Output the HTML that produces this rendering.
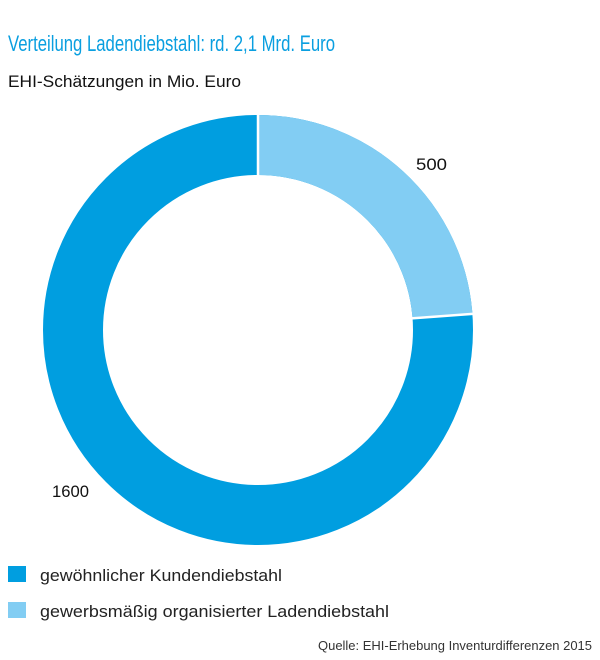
<!DOCTYPE html>
<html><head><meta charset="utf-8"><style>html,body{margin:0;padding:0;background:#fff}svg{display:block}</style></head>
<body>
<svg width="600" height="660" viewBox="0 0 600 660" xmlns="http://www.w3.org/2000/svg" font-family="Liberation Sans, sans-serif">
<text x="8" y="51" font-size="22" fill="#0a9fe0" textLength="327" lengthAdjust="spacingAndGlyphs">Verteilung Ladendiebstahl: rd. 2,1 Mrd. Euro</text>
<text x="8" y="87" font-size="17" fill="#111" textLength="233" lengthAdjust="spacingAndGlyphs">EHI-Schätzungen in Mio. Euro</text>
<circle cx="258" cy="330" r="185" fill="none" stroke="#009ee0" stroke-width="60"/>
<path d="M258 145 A185 185 0 0 1 442.5 316.1" fill="none" stroke="#82cdf3" stroke-width="60"/>
<line x1="258" y1="113" x2="258" y2="177" stroke="#fff" stroke-width="2.5"/>
<line x1="410" y1="318.5" x2="476" y2="313.6" stroke="#fff" stroke-width="2.5"/>
<text x="416" y="170" font-size="17" fill="#111" textLength="31" lengthAdjust="spacingAndGlyphs">500</text>
<text x="52" y="497" font-size="17" fill="#111" textLength="37" lengthAdjust="spacingAndGlyphs">1600</text>
<rect x="8" y="566" width="18" height="16" fill="#009ee0"/>
<text x="40" y="581" font-size="17" fill="#222" textLength="242" lengthAdjust="spacingAndGlyphs">gewöhnlicher Kundendiebstahl</text>
<rect x="8" y="602" width="18" height="16" fill="#82cdf3"/>
<text x="40" y="617" font-size="17" fill="#222" textLength="349" lengthAdjust="spacingAndGlyphs">gewerbsmäßig organisierter Ladendiebstahl</text>
<text x="318" y="650" font-size="13" fill="#333" textLength="274" lengthAdjust="spacingAndGlyphs">Quelle: EHI-Erhebung Inventurdifferenzen 2015</text>
</svg>
</body></html>
